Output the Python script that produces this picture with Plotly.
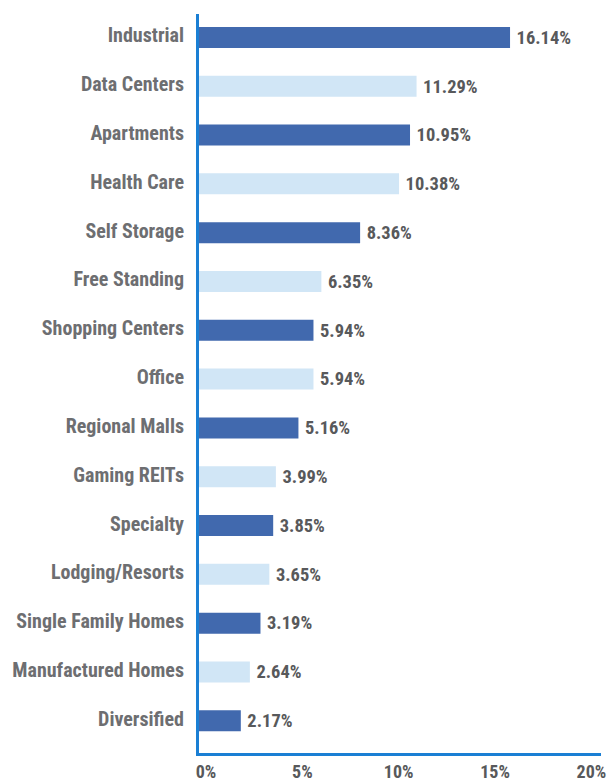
import plotly.graph_objects as go

categories = ["Industrial", "Data Centers", "Apartments", "Health Care", "Self Storage",
              "Free Standing", "Shopping Centers", "Office", "Regional Malls", "Gaming REITs",
              "Specialty", "Lodging/Resorts", "Single Family Homes", "Manufactured Homes", "Diversified"]
values = [16.14, 11.29, 10.95, 10.38, 8.36, 6.35, 5.94, 5.94, 5.16, 3.99, 3.85, 3.65, 3.19, 2.64, 2.17]
tick_vals = [0, 5, 10, 15, 20]
tick_text = ["0%", "5%", "10%", "15%", "20%"]

dark = "#4169ae"
light = "#d1e6f6"
colors = [dark if i % 2 == 0 else light for i in range(len(categories))]

font_family = "Roboto Condensed, Liberation Sans Narrow, sans-serif"

fig = go.Figure(go.Bar(
    y=categories,
    x=values,
    orientation="h",
    marker=dict(color=colors, line=dict(width=0)),
    width=0.43,
    text=[f"\u2009<b>{v:.2f}%</b>" for v in values],
    textposition="outside",
    textfont=dict(family=font_family, size=22, color="#58595b"),
    cliponaxis=False,
))

fig.update_layout(
    width=611, height=781,
    margin=dict(l=199, r=10, t=14, b=28),
    paper_bgcolor="white", plot_bgcolor="white",
    showlegend=False,
    xaxis=dict(
        range=[0, 20.86],
        automargin=False,
        tickvals=tick_vals,
        ticktext=[f"<b>{t}</b>" for t in tick_text],
        showgrid=False, zeroline=False,
        showline=True, linecolor="#1a7fd4", linewidth=3,
        ticks="", ticklabelstandoff=0, ticklabelshift=7,
        tickfont=dict(family=font_family, size=18, color="#58595b"),
    ),
    yaxis=dict(
        categoryorder="array", categoryarray=categories,
        autorange=False, range=[14.66, -0.48],
        automargin=False,
        showgrid=False, zeroline=False,
        showline=True, linecolor="#1a7fd4", linewidth=3,
        ticks="", ticklabelstandoff=8, ticklabelshift=2,
        tickmode="array", tickvals=categories,
        ticktext=[f"<b>{c}</b>" for c in categories],
        tickfont=dict(family=font_family, size=20, color="#6d6e71"),
    ),
)

fig.write_html("out.html", config={"displayModeBar": False},
               post_script="document.body.style.margin='0';document.body.style.padding='0';")
